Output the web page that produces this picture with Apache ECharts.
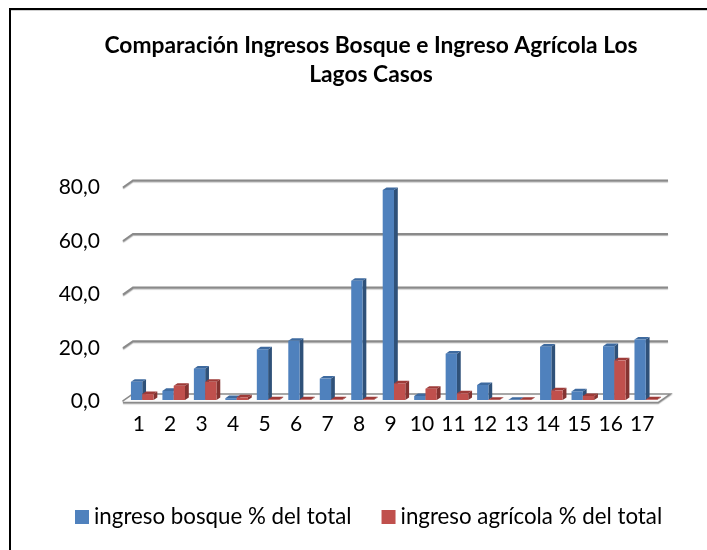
<!DOCTYPE html>
<html><head><meta charset="utf-8">
<style>html,body{margin:0;padding:0;background:#fff}#c{width:707px;height:550px}</style>
<script src="https://cdn.jsdelivr.net/npm/echarts@6/dist/echarts.min.js"></script></head>
<body><div id="c"></div>
<script>
const categories = ['1','2','3','4','5','6','7','8','9','10','11','12','13','14','15','16','17'];
const bosque = [6.8,3.4,11.7,0.7,18.9,22.1,8.0,44.5,78.4,1.5,17.3,5.6,0.1,19.9,3.2,20.1,22.6];
const agricola = [2.2,5.3,6.8,1.0,0.2,0.2,0.2,0.2,6.2,4.2,2.5,0.1,0.1,3.6,1.5,14.8,0.2];
const yTicks = [0,20,40,60,80];
const names = ['ingreso bosque % del total','ingreso agrícola % del total'];
const BLUE='#4F81BD', BLUE_SIDE='#2F5179', BLUE_TOP='#3E6A9F';
const RED='#C0504D', RED_SIDE='#843331', RED_TOP='#9E3B38';
const DX=10, DY=7, BX=3.5, BY=1.7, BW=11.3, D=3.8, DH=2.6;
function poly(pts,fill,z2){return {type:'polygon',shape:{points:pts},style:{fill:fill,stroke:null},z2:z2||1};}
function barItem(idx,colors,offs){
  return function(params,api){
    const i=api.value(0), v=api.value(1);
    const c=api.coord([i,0]), t=api.coord([i,v]);
    const x0=c[0]+BX+offs*BW, x1=x0+BW, y0=c[1]-BY, y1=t[1]-BY;
    return {type:'group',children:[
      poly([[x1,y0],[x1+D,y0-DH],[x1+D,y1-DH],[x1,y1]],colors[1]),
      poly([[x0,y1],[x1,y1],[x1+D,y1-DH],[x0+D,y1-DH]],colors[2]),
      poly([[x0,y0],[x1,y0],[x1,y1],[x0,y1]],colors[0])
    ]};
  };
}
const chart=echarts.init(document.getElementById('c'),null,{renderer:'canvas'});
chart.setOption({
  animation:false,
  backgroundColor:'#fff',
  textStyle:{fontFamily:'Lato'},
  graphic:[{type:'polyline',shape:{points:[[10,550],[10,9],[707,9]]},style:{fill:'none',stroke:'#000',lineWidth:2},silent:true},
           {type:'line',shape:{x1:11,y1:10.5,x2:707,y2:10.5},style:{stroke:'#cfcfcf',lineWidth:1},silent:true}],
  title:{text:'Comparación Ingresos Bosque e Ingreso Agrícola Los\nLagos Casos',left:366,textAlign:'center',top:26,
    textStyle:{fontFamily:'Lato',fontWeight:'bold',fontSize:22.8,color:'#000',lineHeight:29}},
  legend:{data:names,top:501,left:70,icon:'rect',itemWidth:14,itemHeight:14,itemGap:30,
    textStyle:{fontFamily:'Lato',fontSize:22.3,color:'#000'}},
  grid:{left:123,right:49,top:187.5,bottom:148.3},
  xAxis:{type:'category',data:categories,axisTick:{show:false},axisLine:{show:false},
    axisLabel:{fontFamily:'Lato',fontSize:21,color:'#000',margin:12,interval:0}},
  yAxis:{type:'value',min:0,max:80,interval:20,splitLine:{show:false},axisLine:{show:false},axisTick:{show:false},
    axisLabel:{fontFamily:'Lato',fontSize:21,color:'#000',margin:23,formatter:v=>v.toFixed(1).replace('.',',')}},
  series:[
    {type:'custom',name:'_walls',silent:true,z:1,data:yTicks.map(v=>[v]),encode:{y:0},
     renderItem:function(p,api){
       const v=api.value(0), half=api.size([1,0])[0]/2;
       const a=api.coord([0,v]), b=api.coord([16,v]);
       const l=[a[0]-half,a[1]], r=[b[0]+half,b[1]];
       const kids=[];
       const ls={stroke:'#8a8a8a',lineWidth:2,fill:null,shadowColor:'rgba(0,0,0,0.3)',shadowBlur:1,shadowOffsetY:1};
       if(v===0){
         kids.push(poly([[l[0],l[1]],[r[0],r[1]],[r[0]+DX,r[1]-DY],[l[0]+DX,l[1]-DY]],'#fcfcfc'));
         kids.push({type:'polyline',shape:{points:[[l[0],l[1]],[r[0],r[1]],[r[0]+DX,r[1]-DY],[l[0]+DX,l[1]-DY],[l[0],l[1]]]},style:{...ls,lineWidth:3}});
       } else {
         kids.push({type:'polyline',shape:{points:[[l[0],l[1]],[l[0]+DX,l[1]-DY],[r[0]+DX,r[1]-DY]]},style:ls});
       }
       return {type:'group',children:kids};
     }},
    {type:'custom',name:names[0],z:3,itemStyle:{color:BLUE},data:bosque.map((v,i)=>[i,v]),encode:{x:0,y:1},
     renderItem:barItem(0,[BLUE,BLUE_SIDE,BLUE_TOP],-1)},
    {type:'custom',name:names[1],z:4,itemStyle:{color:RED},data:agricola.map((v,i)=>[i,v]),encode:{x:0,y:1},
     renderItem:barItem(1,[RED,RED_SIDE,RED_TOP],0)}
  ]
});
</script></body></html>
